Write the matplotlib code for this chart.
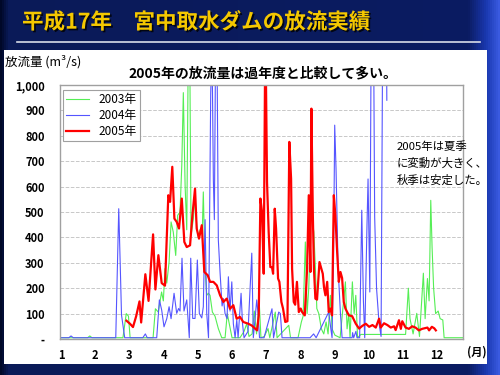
import numpy as np
import matplotlib
matplotlib.use("Agg")
import matplotlib.pyplot as plt
from matplotlib.patches import Rectangle
import matplotlib.patheffects as pe

plt.rcParams['font.family'] = ['Noto Sans CJK JP', 'DejaVu Sans']

# 日単位 (1月1日 = 0), 放流量 m3/s
days_2003 = [0, 25, 27, 29, 57, 60, 62, 63.5, 84.3, 86.4, 89, 92, 93.6, 95.1, 96.7, 98.8, 100.6,
             102.6, 104.8, 106.6, 108.7, 110.3, 111.7, 113.3, 114.8, 116.2, 117.5, 118.7, 120.8,
             122.3, 123.8, 125.3, 126.8, 128.9, 129.8, 131.4, 132.9, 134.4, 135.9, 138, 140.4,
             143.4, 146.5, 149.5, 151.5, 155.8, 163, 166.7, 169.1, 171.2, 174, 176, 178, 180.5,
             182, 185, 188.4, 190, 195, 196.6, 207.2, 208.8, 215.6, 218.6, 220.2, 222.2, 223.8,
             225.3, 226.8, 227.7, 229, 229.9, 231.3, 232.6, 234.4, 236.7, 238.9, 241, 242.8,
             244.9, 246.4, 249, 253.7, 258.5, 260, 261.6, 262.7, 264.8, 266.4, 267.9, 269.5,
             272.5, 313, 315.5, 317, 319.8, 323.1, 325.6, 329.1, 330.7, 332.8, 334.3, 335.8,
             337, 338.4, 340.2, 342.5, 344.3, 346.7, 347.9, 365]
flow_2003 = [5, 5, 12, 5, 5, 100, 90, 5, 5, 119, 106, 185, 150, 277, 220, 303, 461,
             421, 329, 487, 500, 684, 970, 605, 430, 1150, 1150, 408, 474,
             566, 448, 400, 430, 430, 579, 277, 172, 180, 172, 106, 90,
             41, 5, 5, 100, 5, 5, 30, 60, 10, 20, 110, 20, 140,
             5, 10, 41, 5, 106, 5, 54, 5, 5, 67, 90, 382, 100,
             200, 421, 795, 450, 421, 280, 120, 100, 40, 20, 67, 20,
             172, 40, 15, 5, 225, 40, 100, 5, 225, 100, 172, 5,
             18, 18, 200, 80, 20, 101, 10, 259, 80, 238, 150, 546,
             360, 200, 100, 110, 80, 75, 5, 5]

days_2004 = [0, 8, 10, 12, 50.5, 53.2, 54.8, 55.7, 58.6, 75, 77.3, 79, 87.6, 90, 92.1, 94.2,
             96.7, 98.8, 100.6, 103.3, 105.7, 107.4, 108.7, 110.5, 112.3, 114.8, 117.1, 118.4,
             120.2, 122.3, 124.4, 126.2, 128.4, 129.8, 131.4, 132.9, 134.5, 136.5, 137.7, 138.9,
             139.8, 140.9, 142.2, 143.4, 145, 146.8, 148, 149.5, 151.3, 152.5, 154, 155.6, 157,
             158.6, 160.1, 161.3, 164, 165.3, 166.7, 170.3, 173.7, 175.1, 178.2, 179.4, 180.7,
             184.8, 192, 193.4, 198.1, 199.6, 201.1, 226.5, 229.7, 232, 243.4, 245, 246.4,
             247.7, 248.8, 250, 251.9, 254, 255.5, 264.6, 265, 266, 268, 269, 271.4, 273.3,
             274.8, 276, 277.9, 279, 280.6, 282.2, 283.6, 285, 286.7, 289, 290.8, 292.6,
             295.4, 296]
flow_2004 = [5, 5, 12, 5, 5, 513, 250, 95, 5, 5, 20, 5, 5, 154, 114, 48,
             80, 127, 80, 180, 101, 120, 110, 318, 110, 154, 5, 318,
             81, 81, 311, 100, 83, 127, 470, 101, 5, 968, 1150, 626,
             470, 1150, 1150, 390, 259, 130, 159, 100, 80, 245, 110, 225, 60,
             5, 75, 5, 180, 60, 5, 30, 338, 5, 154, 100, 5,
             5, 119, 5, 106, 100, 5, 5, 20, 5, 106, 50, 5,
             300, 842, 671, 277, 100, 5, 5, 25, 5, 30, 5, 5, 507,
             150, 5, 420, 630, 185, 1500, 1500, 480, 200, 60, 10, 1500,
             1500, 940]

days_2005 = [60.2, 63.4, 66.1, 69, 72, 73.5, 77.3, 80.2, 84.3, 86.4, 89.1, 92.1, 95.1, 98.1,
             99.7, 101.7, 103.6, 105.7, 107.8, 110.3, 112.6, 114.8, 117.8, 119.9, 122.3, 123.8,
             125.9, 128.4, 130.7, 133.8, 135.9, 138.9, 142, 145, 148, 151, 154, 157, 160, 163,
             166, 170.6, 173.7, 176.7, 178.5, 180, 181.5, 183, 184.5, 186, 187.5, 189, 190.5,
             192, 193, 194.5, 195.7, 197.5, 198.7, 200.5, 202, 204, 206, 207.7, 209.3, 210.2,
             211.7, 213, 214.6, 216.3, 218, 219.3, 221.7, 223.8, 225.3, 226.8, 227.7, 229, 230,
             231.3, 232.8, 235, 236.7, 238, 239.2, 240.4, 242, 243.4, 244.9, 246.4, 248, 249.4,
             251, 252.5, 254, 255.5, 257, 258.5, 261.6, 264.6, 267.9, 270.9, 273.9, 277, 280,
             283, 286, 289, 290.5, 293.5, 296.5, 299.6, 302.6, 304, 307, 308.7, 310, 313, 316,
             319, 322, 325, 328, 332.8, 334.3, 336.8, 339, 340.4]
flow_2005 = [72, 60, 47, 90, 148, 65, 255, 150, 412, 195, 330, 220, 210, 566,
             540, 678, 474, 461, 435, 553, 382, 362, 369, 487, 592, 435,
             395, 448, 264, 251, 225, 225, 211, 172, 146, 159, 119, 133, 80, 87,
             67, 60, 53, 41, 34, 93, 553, 500, 257, 1250, 618, 421, 283,
             283, 257, 513, 435, 238, 225, 146, 120, 67, 70, 776, 631, 277,
             146, 135, 225, 106, 120, 106, 93, 277, 566, 264, 907, 487, 277,
             159, 155, 303, 277, 257, 200, 172, 225, 106, 120, 93, 566, 487,
             343, 225, 264, 240, 146, 120, 93, 90, 60, 41, 52, 60, 48,
             55, 45, 80, 45, 62, 55, 45, 50, 35, 74, 40, 70, 45, 40,
             50, 45, 34, 40, 45, 34, 48, 42, 34]

months = ['1', '2', '3', '4', '5', '6', '7', '8', '9', '10', '11', '12']
yticks = [0, 100, 200, 300, 400, 500, 600, 700, 800, 900, 1000]
ytick_labels = ['-', '100', '200', '300', '400', '500', '600', '700', '800', '900', '1,000']

fig = plt.figure(figsize=(5, 3.75), dpi=100)

# background
bg = fig.add_axes([0, 0, 1, 1], zorder=-10)
grad = np.linspace(0, 1, 500)[None, :]
cmap = matplotlib.colors.LinearSegmentedColormap.from_list(
    'bg', [(0, '#000828'), (0.015, '#0a1a58'), (0.94, '#0b1c62'),
           (0.975, '#1a38b0'), (1, '#3a5ae0')])
bg.imshow(grad, aspect='auto', cmap=cmap, extent=[0, 1, 0, 1])
bg.set_xlim(0, 1)
bg.set_ylim(0, 1)
bg.axis('off')
bg.add_patch(Rectangle((0.008, 0.029), 0.966, 0.838, facecolor='white', edgecolor='none'))
bg.plot([0.034, 0.96], [0.888, 0.888], color='#d8dce8', lw=1.2)

fig.text(0.044, 0.941, '平成17年　宮中取水ダムの放流実績', fontsize=15.5, fontweight='bold',
         color='#f5c800', va='center', ha='left',
         path_effects=[pe.withSimplePatchShadow(offset=(1.2, -1.2), shadow_rgbFace='#000000', alpha=0.8)])

fig.text(0.01, 0.835, '放流量 (m³/s)', fontsize=9, va='center', ha='left')
fig.text(0.525, 0.805, '2005年の放流量は過年度と比較して多い。', fontsize=10, fontweight='bold',
         va='center', ha='center')
fig.text(0.794, 0.563, '2005年は夏季\nに変動が大きく、\n秋季は安定した。', fontsize=8.2,
         va='center', ha='left', linespacing=1.6)
fig.text(0.954, 0.061, '(月)', fontsize=8, fontweight='bold', va='center', ha='center')

ax = fig.add_axes([0.12, 0.096, 0.806, 0.6773])
ax.plot(days_2003, flow_2003, color='#55ee55', lw=0.8, label='2003年')
ax.plot(days_2004, flow_2004, color='#5555ff', lw=0.8, label='2004年')
ax.plot(days_2005, flow_2005, color='#ff0000', lw=1.6, label='2005年')

ax.set_xlim(0, 365)
ax.set_ylim(0, 1000)
ax.set_yticks(yticks)
ax.set_yticklabels(ytick_labels, fontsize=8, fontweight='bold')
ax.set_xticks(1 + 30.95 * np.arange(12))
ax.set_xticklabels(months, fontsize=8, fontweight='bold')
ax.tick_params(axis='y', length=0, pad=11)
ax.tick_params(axis='x', length=0, pad=7)
ax.grid(axis='y', color='#c8c8c8', linestyle='--', lw=0.7)
for s in ax.spines.values():
    s.set_color('#a0a0a0')
    s.set_linewidth(1.0)

leg = ax.legend(loc='upper left', bbox_to_anchor=(0.007, 0.98), fontsize=8.5, fancybox=False,
                edgecolor='#a0a0a0', framealpha=1, borderpad=0.25, handlelength=2.0,
                labelspacing=0.25, borderaxespad=0)
leg.get_frame().set_linewidth(0.8)

fig.savefig('out.png', dpi=100)
